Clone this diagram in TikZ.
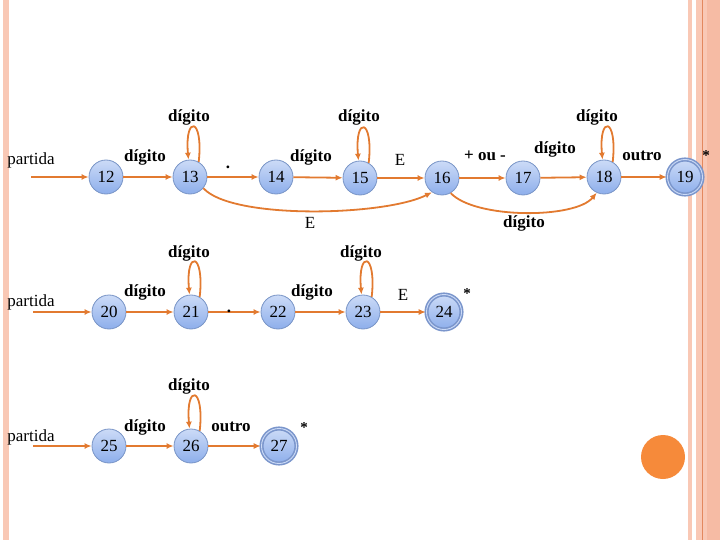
\documentclass[tikz,border=0pt]{standalone}
\usepackage{fontspec}
\setmainfont{Liberation Serif}
\usetikzlibrary{arrows.meta}
\definecolor{edgec}{HTML}{E27A30}
\definecolor{nodeb}{HTML}{7894C6}
\definecolor{accb}{HTML}{7B96CC}
\definecolor{nodetop}{HTML}{CCDBF7}
\definecolor{nodebot}{HTML}{8DAEEB}
\definecolor{barc}{HTML}{F9C8B5}
\definecolor{bard}{HTML}{F6BBA4}
\definecolor{barl}{HTML}{E3885E}
\definecolor{dotc}{HTML}{F68A3A}
\begin{document}
\begin{tikzpicture}[x=1pt,y=-1pt,
  st/.style={circle, draw=nodeb, line width=0.8pt, top color=nodetop, bottom color=nodebot,
    minimum size=34pt, inner sep=0pt, font=\fontsize{17}{20}\selectfont},
  acc/.style={st, minimum size=35pt, draw=accb, line width=1.6pt, double=nodetop, double distance=0.9pt},
  tr/.style={draw=edgec, line width=1.8pt, -{Latex[length=7pt,width=6pt]}},
  lb/.style={font=\fontsize{17}{20}\selectfont\bfseries, inner sep=0pt, anchor=base},
  lr/.style={font=\fontsize{17}{20}\selectfont, inner sep=0pt, anchor=base},
  ast/.style={font=\fontsize{15}{18}\selectfont\bfseries, inner sep=0pt}]
\useasboundingbox (0,0) rectangle (720,540);
% decorative bars
\fill[barc] (3,0) rectangle (8.5,540);
\fill[barc] (688,0) rectangle (692,540);
\fill[barc] (696,0) rectangle (720,540);
\fill[bard] (707,0) rectangle (720,540);
\draw[barl, line width=0.6pt] (702,0) -- (702,540);
\fill[dotc] (663,457) circle (22);

% ---------- row 1 ----------
\node[st] (n12) at (106,177) {12};
\node[st] (n13) at (190,177) {13};
\node[st] (n14) at (276,177) {14};
\node[st] (n15) at (360,178) {15};
\node[st] (n16) at (442,178) {16};
\node[st] (n17) at (523,178) {17};
\node[st] (n18) at (604,177) {18};
\node[acc] (n19) at (685,177) {19};
\coordinate (s1) at (31,177);
\node[lr] (p1) at (31,165) {partida};
\draw[tr] (s1) -- (n12);
\draw[tr] (n12) -- (n13);
\draw[tr] (n13) -- (n14);
\draw[tr] (n14) -- (n15);
\draw[tr] (n15) -- (n16);
\draw[tr] (n16) -- (n17);
\draw[tr] (n17) -- (n18);
\draw[tr] (n18) -- (n19);
\draw[tr] (n13.60) .. controls +(5,-45) and +(-4,-45) .. (n13.95);
\draw[tr] (n15.60) .. controls +(5,-45) and +(-4,-45) .. (n15.95);
\draw[tr] (n18.60) .. controls +(5,-45) and +(-4,-45) .. (n18.95);
\draw[tr] (n13.-40) .. controls (232,220) and (385,216) .. (n16.-125);
\draw[tr] (n16.-60) .. controls (475,219) and (575,219) .. (n18.-115);
\node[lb] (a1) at (145,162) {dígito};
\node[lb] (a2) at (189,122) {dígito};
\node[lb] (a3) at (228,169) {.};
\node[lb] (a4) at (311,162) {dígito};
\node[lb] (a5) at (359,122) {dígito};
\node[lr] (a6) at (400,166) {E};
\node[lb] (a7) at (485,161) {+ ou -};
\node[lb] (a8) at (555,154) {dígito};
\node[lb] (a9) at (597,122) {dígito};
\node[lb] (a10) at (642,161) {outro};
\node[ast] (a11) at (706,156) {*};
\node[lr] (a12) at (310,229) {E};
\node[lb] (a13) at (524,228) {dígito};

% ---------- row 2 ----------
\node[st] (n20) at (109,312) {20};
\node[st] (n21) at (191,312) {21};
\node[st] (n22) at (278,312) {22};
\node[st] (n23) at (363,312) {23};
\node[acc] (n24) at (444,312) {24};
\coordinate (s2) at (33,312);
\node[lr] (p2) at (31,306) {partida};
\draw[tr] (s2) -- (n20);
\draw[tr] (n20) -- (n21);
\draw[tr] (n21) -- (n22);
\draw[tr] (n22) -- (n23);
\draw[tr] (n23) -- (n24);
\draw[tr] (n21.60) .. controls +(5,-45) and +(-4,-45) .. (n21.95);
\draw[tr] (n23.60) .. controls +(5,-45) and +(-4,-45) .. (n23.95);
\node[lb] (b1) at (145,296) {dígito};
\node[lb] (b2) at (189,257) {dígito};
\node[lb] (b3) at (229,312) {.};
\node[lb] (b4) at (312,296) {dígito};
\node[lb] (b5) at (361,257) {dígito};
\node[lr] (b6) at (403,300) {E};
\node[ast] (b7) at (467,294) {*};

% ---------- row 3 ----------
\node[st] (n25) at (109,446) {25};
\node[st] (n26) at (191,446) {26};
\node[acc] (n27) at (279,446) {27};
\coordinate (s3) at (33,446);
\node[lr] (p3) at (31,441) {partida};
\draw[tr] (s3) -- (n25);
\draw[tr] (n25) -- (n26);
\draw[tr] (n26) -- (n27);
\draw[tr] (n26.60) .. controls +(5,-45) and +(-4,-45) .. (n26.95);
\node[lb] (c1) at (145,431) {dígito};
\node[lb] (c2) at (189,390) {dígito};
\node[lb] (c3) at (231,431) {outro};
\node[ast] (c4) at (304,428) {*};
\end{tikzpicture}
\end{document}
